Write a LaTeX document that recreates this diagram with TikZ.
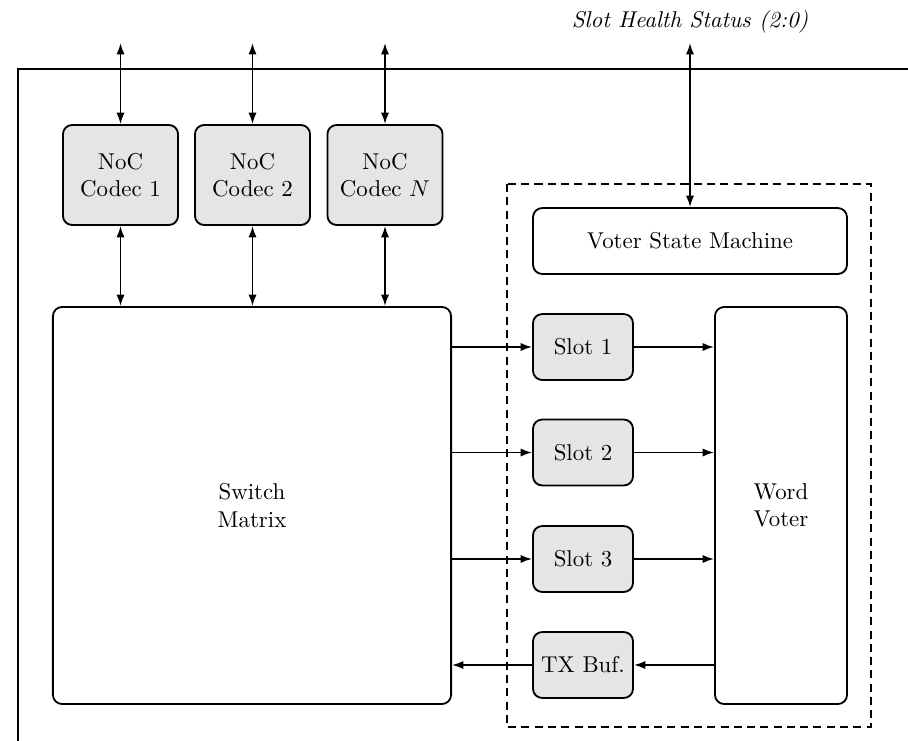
\documentclass[tikz,border=0pt]{standalone}
\usetikzlibrary{arrows.meta}

\tikzset{
  blk/.style={draw=black, line width=0.8pt, rounded corners=4pt, align=center, inner sep=0pt},
  gblk/.style={blk, fill=gray!20},
  conn/.style={line width=0.8pt, -{Latex[length=5pt,width=3.6pt]}},
  biconn/.style={line width=0.8pt, {Latex[length=5pt,width=3.6pt]}-{Latex[length=5pt,width=3.6pt]}}
}

\begin{document}
\begin{tikzpicture}[x=0.437pt, y=0.437pt, yscale=-1]
  \useasboundingbox (0,0) rectangle (908,740);

  % enclosing frame, runs off the page
  \draw[line width=0.8pt] (18,750) -- (18,69) -- (920,69);

  % codecs
  \node[gblk, minimum width=50.3pt, minimum height=43.7pt] (c1) at (120.5,175) {NoC\\Codec 1};
  \node[gblk, minimum width=50.3pt, minimum height=43.7pt] (c2) at (252.5,175) {NoC\\Codec 2};
  \node[gblk, minimum width=50.3pt, minimum height=43.7pt] (cn) at (385,175) {NoC\\Codec $N$};

  \node[blk, minimum width=174pt, minimum height=173.5pt] (sw) at (252,505.5) {Switch\\Matrix};

  % voter
  \draw[line width=0.8pt, dash pattern=on 3.5pt off 2.3pt] (507,184) rectangle (871,727);
  \node[blk, minimum width=137.2pt, minimum height=28.8pt] (vsm) at (690,241) {Voter State Machine};
  \node[gblk, minimum width=43.7pt, minimum height=28.8pt] (s1) at (583,347) {Slot 1};
  \node[gblk, minimum width=43.7pt, minimum height=28.8pt] (s2) at (583,452.5) {Slot 2};
  \node[gblk, minimum width=43.7pt, minimum height=28.8pt] (s3) at (583,559) {Slot 3};
  \node[gblk, minimum width=43.7pt, minimum height=28.8pt] (tx) at (583,665) {TX Buf.};
  \node[blk, minimum width=57.7pt, minimum height=173.5pt] (wv) at (781,505.5) {Word\\Voter};

  \node (hs) at (690,22) {\textit{Slot Health Status (2:0)}};

  \coordinate (io1) at (120.5,43);
  \coordinate (io2) at (252.5,43);
  \coordinate (ion) at (385,43);
  \coordinate (iohs) at (690,43);

  \draw[biconn] (io1) -- (c1);
  \draw[biconn] (io2) -- (c2);
  \draw[biconn] (ion) -- (cn);
  \draw[biconn] (iohs) -- (vsm);

  \draw[biconn] (c1) -- (c1 |- sw.north);
  \draw[biconn] (c2) -- (c2 |- sw.north);
  \draw[biconn] (cn) -- (cn |- sw.north);

  \draw[conn] (sw.east |- s1) -- (s1);
  \draw[conn] (sw.east |- s2) -- (s2);
  \draw[conn] (sw.east |- s3) -- (s3);
  \draw[conn] (s1) -- (s1 -| wv.west);
  \draw[conn] (s2) -- (s2 -| wv.west);
  \draw[conn] (s3) -- (s3 -| wv.west);
  \draw[conn] (wv.west |- tx) -- (tx);
  \draw[conn] (tx) -- (sw.east |- tx);
\end{tikzpicture}
\end{document}
